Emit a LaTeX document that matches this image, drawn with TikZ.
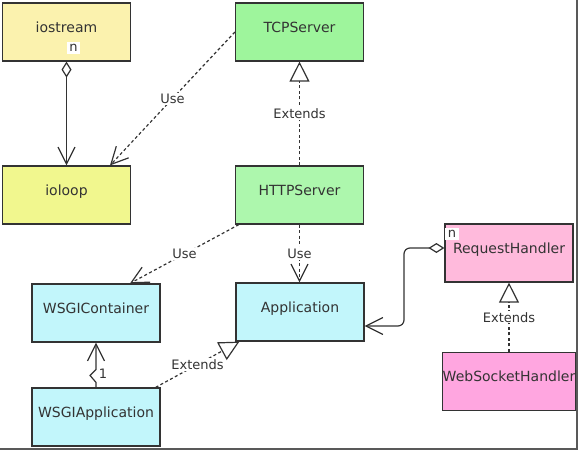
\documentclass[tikz,border=0pt]{standalone}
\usepackage{fontspec}
\setmainfont{DejaVu Sans}
\usetikzlibrary{arrows.meta}
\definecolor{yelA}{HTML}{FBF2AE}
\definecolor{yelB}{HTML}{F1F78E}
\definecolor{grnA}{HTML}{9EF59C}
\definecolor{grnB}{HTML}{ADF7AD}
\definecolor{cyanA}{HTML}{C2F6FB}
\definecolor{pinkA}{HTML}{FFBADC}
\definecolor{pinkB}{HTML}{FFA6E0}
\definecolor{ink}{HTML}{333333}
\begin{document}
\begin{tikzpicture}[x=1pt,y=-1pt,
  cls/.style={draw=ink, line width=1.2pt, minimum width=128pt, minimum height=58pt,
    inner sep=0pt, text=ink, font=\fontsize{14}{16}\selectfont, text height=6.5pt, text depth=6pt},
  lbl/.style={fill=white, inner sep=1.2pt, text=ink, font=\fontsize{13}{15}\selectfont},
  assoc/.style={draw=ink, line width=1.2pt},
  dep/.style={draw=ink, line width=1.2pt, dash pattern=on 3pt off 2.5pt},
  vtip/.style={-{Straight Barb[length=17pt,width=17pt,line width=1.2pt]}},
  tri/.style={-{Triangle[open,fill=white,length=20pt,width=20pt,line width=1.2pt]}},
  dia/.tip={Diamond[open,fill=white,length=16pt,width=10pt,line width=1.2pt]},
  vbarb/.tip={Straight Barb[length=17pt,width=17pt,line width=1.2pt]}
]
\useasboundingbox (0,0) rectangle (579,452);
% frame shadow
\draw[line width=2.5pt, black!65] (0,449) -- (577,449) -- (577,0);

% classes
\node[cls, fill=yelA] (iostream) at (66.5,32) {iostream};
\node[cls, fill=grnA] (TCPServer) at (299.5,32) {TCPServer};
\node[cls, fill=yelB] (ioloop) at (66.5,195) {ioloop};
\node[cls, fill=grnB] (HTTPServer) at (299.5,195) {HTTPServer};
\node[cls, fill=cyanA] (WSGIContainer) at (96,313) {WSGIContainer};
\node[cls, fill=cyanA] (Application) at (300,312) {Application};
\node[cls, fill=pinkA] (RequestHandler) at (509,253) {RequestHandler};
\node[cls, fill=pinkB] (WebSocketHandler) at (509,381.5) {WebSocketHandler};
\node[cls, fill=cyanA] (WSGIApplication) at (96,417) {WSGIApplication};

% multiplicity labels
\node[lbl, inner sep=2.5pt] (nA) at (73.5,48) {n};
\node[lbl, inner sep=2.5pt] (nB) at (452,234) {n};

% iostream -> ioloop (aggregation)
\draw[assoc, dia-vbarb] (iostream) -- (ioloop);

% TCPServer -> ioloop Use
\draw[dep, vtip] (TCPServer.west) -- ([xshift=43.5pt]ioloop.north)
  node[lbl, midway] (u1) {Use};

% HTTPServer -> TCPServer Extends
\draw[dep, tri] (HTTPServer) -- (TCPServer) node[lbl, midway] (e1) {Extends};

% HTTPServer -> WSGIContainer Use
\draw[dep, vtip] ([xshift=4pt]HTTPServer.south west) -- ([xshift=34pt]WSGIContainer.north)
  node[lbl, midway] (u2) {Use};

% HTTPServer -> Application Use
\draw[dep, vtip] (HTTPServer.south) -- (HTTPServer.south |- Application.north)
  node[lbl, midway] (u3) {Use};

% RequestHandler -> Application (aggregation)
\coordinate (rhbend) at (404,290);
\draw[assoc, rounded corners=6pt, dia-vbarb] ([yshift=5pt]RequestHandler.west) -| (rhbend)
  |- ([yshift=-14pt]Application.east);

% WebSocketHandler -> RequestHandler Extends
\draw[dep, tri] (WebSocketHandler) -- (RequestHandler) node[lbl, midway] (e2) {Extends};

% WSGIApplication -> Application Extends
\draw[dep, tri] ([xshift=-5pt]WSGIApplication.north east) -- ([xshift=4pt]Application.south west)
  node[lbl, midway] (e3) {Extends};

% WSGIApplication -> WSGIContainer
\draw[assoc, -vbarb] (WSGIApplication.north) -- ++(0,-5) -- ++(-6,-7) -- ++(6,-6)
  -- (WSGIContainer.south);
\node[text=ink, font=\fontsize{13}{15}\selectfont, inner sep=0pt] (one) at (103,374) {1};
\end{tikzpicture}
\end{document}
